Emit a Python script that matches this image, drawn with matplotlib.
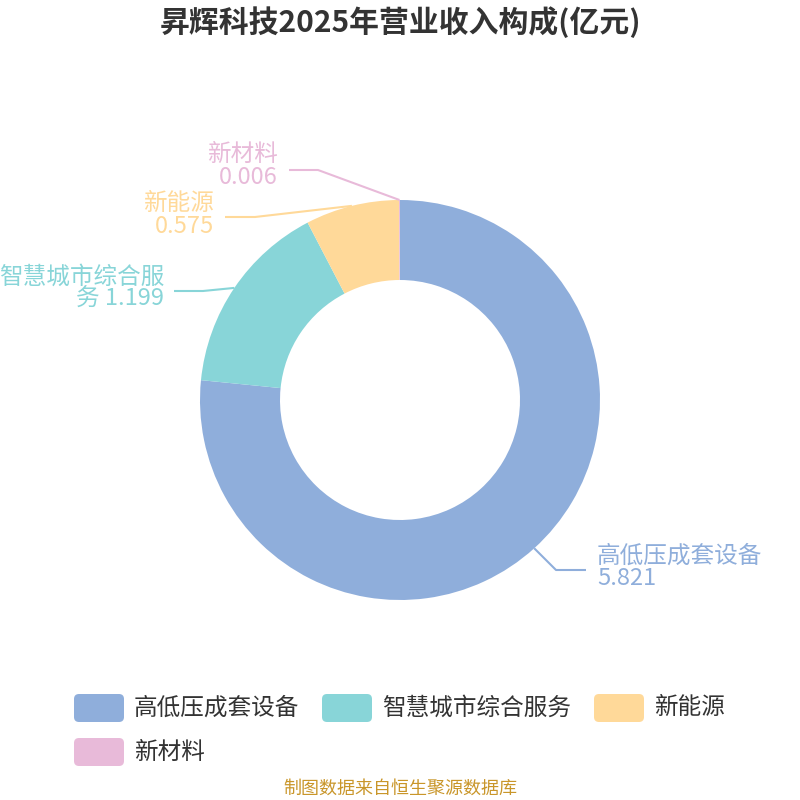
import numpy as np
import matplotlib
matplotlib.use("Agg")
import matplotlib.pyplot as plt
from matplotlib.patches import FancyBboxPatch

plt.rcParams['font.family'] = ['Noto Sans CJK SC', 'DejaVu Sans']

# data
categories = ["高低压成套设备", "智慧城市综合服务", "新能源", "新材料"]
values = [5.821, 1.199, 0.575, 0.006]
label_texts = ["高低压成套设备\n5.821", "智慧城市综合服\n务 1.199", "新能源\n0.575", "新材料\n0.006"]
colors = ["#8FAEDB", "#88D5D8", "#FFD999", "#E8BAD9"]

title = "昇辉科技2025年营业收入构成(亿元)"
source = "制图数据来自恒生聚源数据库"

W = H = 800
fig = plt.figure(figsize=(8, 8), dpi=100)
ax = fig.add_axes([0, 0, 1, 1])

cx, cy = 400, H - 400
R = 200
wedges, _ = ax.pie(values, colors=colors, startangle=90, counterclock=False,
                   radius=R, center=(cx, cy), wedgeprops=dict(width=80, linewidth=0),
                   frame=True)
ax.set_xlim(0, W)
ax.set_ylim(0, H)
ax.set_aspect('equal')
ax.axis('off')

# label layout: elbow point, line end, text anchor (pixel coords from top)
layout = [
    ((556, 570), (586, 570), (597, 567), 'left'),
    ((203, 291), (174, 291), (164, 288), 'right'),
    ((255, 217), (225, 217), (214, 215), 'right'),
    ((318, 170), (289, 170), (278, 166), 'right'),
]

for w, txt, col, (elbow, end, tpos, ha) in zip(wedges, label_texts, colors, layout):
    mid = np.deg2rad((w.theta1 + w.theta2) / 2)
    sx = cx + R * np.cos(mid)
    sy = cy + R * np.sin(mid)
    ax.plot([sx, elbow[0], end[0]], [sy, H - elbow[1], H - end[1]],
            color=col, lw=1.5, solid_capstyle='butt')
    ax.text(tpos[0], H - tpos[1], txt, ha=ha, va='center', ma=ha,
            fontsize=17, color=col, linespacing=0.95)

# title
fig.text(0.5, 1 - 22 / H, title, ha='center', va='center', fontsize=21.5,
         fontweight='bold', color='#333333')

# legend drawn manually
legend_pos = [(74, 708), (322, 708), (594, 708), (74, 752)]
for (lx, ly), name, col in zip(legend_pos, categories, colors):
    box = FancyBboxPatch((lx, H - ly - 14), 50, 28,
                         boxstyle="round,pad=0,rounding_size=5",
                         fc=col, ec='none')
    ax.add_patch(box)
    ax.text(lx + 60, H - ly, name, ha='left', va='center', fontsize=17,
            color='#333333')

fig.text(0.5, 1 - 789 / H, source, ha='center', va='center', fontsize=13,
         color='#C9962A')

fig.savefig("out.png", dpi=100, facecolor='white')
